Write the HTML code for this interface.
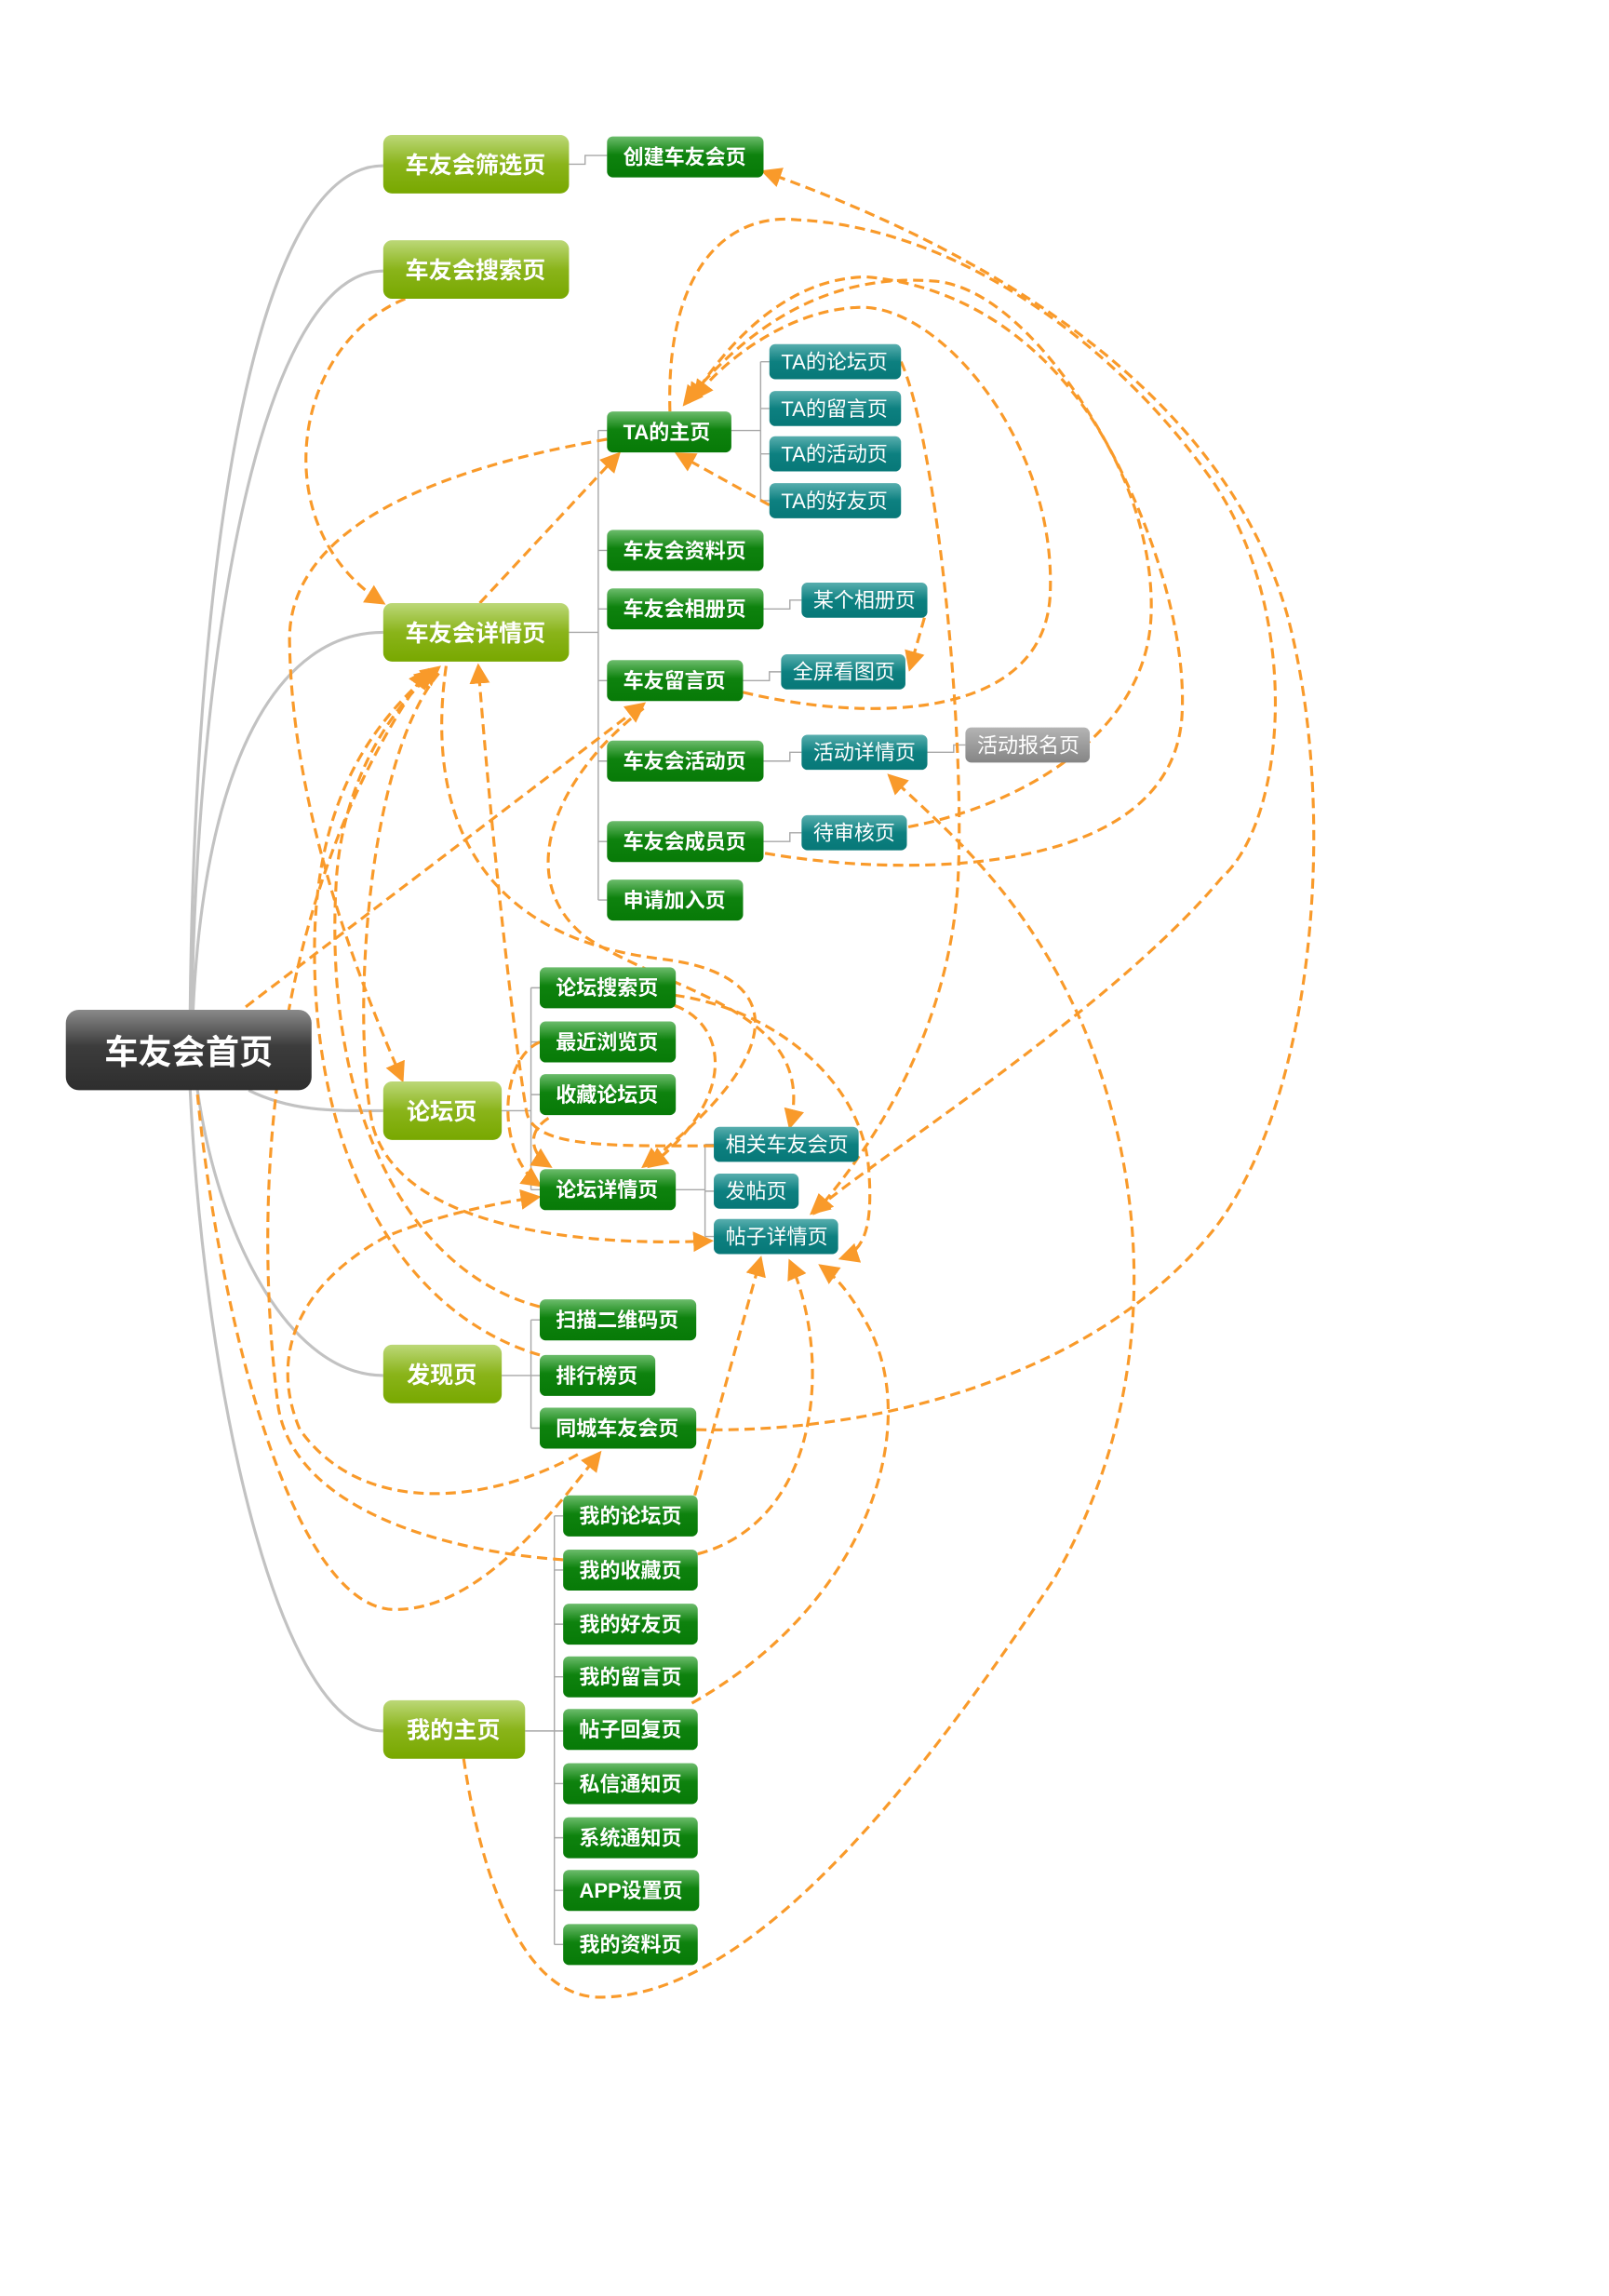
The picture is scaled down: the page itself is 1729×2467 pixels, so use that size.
<!DOCTYPE html>
<html><head><meta charset="utf-8"><style>
html,body{margin:0;padding:0;background:#fff}
svg{display:block}
text{font-family:"Liberation Sans","Noto Sans CJK SC",sans-serif;fill:#fff}
</style></head><body>
<svg width="1729" height="2467" viewBox="0 0 1100 1569" xmlns="http://www.w3.org/2000/svg">
<defs>
<linearGradient id="gr" x1="0" y1="0" x2="0" y2="1"><stop offset="0" stop-color="#8a8a8a"/><stop offset="0.45" stop-color="#3c3c3c"/><stop offset="1" stop-color="#2e2e2e"/></linearGradient>
<linearGradient id="gl" x1="0" y1="0" x2="0" y2="1"><stop offset="0" stop-color="#bcd878"/><stop offset="0.5" stop-color="#8ab41a"/><stop offset="1" stop-color="#78a800"/></linearGradient>
<linearGradient id="gg" x1="0" y1="0" x2="0" y2="1"><stop offset="0" stop-color="#6cbc6c"/><stop offset="0.45" stop-color="#0e820e"/><stop offset="1" stop-color="#077a07"/></linearGradient>
<linearGradient id="gt" x1="0" y1="0" x2="0" y2="1"><stop offset="0" stop-color="#58aeae"/><stop offset="0.5" stop-color="#0d8080"/><stop offset="1" stop-color="#077878"/></linearGradient>
<linearGradient id="gy" x1="0" y1="0" x2="0" y2="1"><stop offset="0" stop-color="#b4b4b4"/><stop offset="1" stop-color="#858585"/></linearGradient>
<marker id="a" markerUnits="userSpaceOnUse" markerWidth="16" markerHeight="16" refX="12" refY="7" orient="auto"><path d="M0,0 L14,7 L0,14 Z" fill="#f99a2a"/></marker>
</defs>

<g fill="none" stroke="#c2c2c2" stroke-width="2">
<path d="M130,690 C133,400 170,113 262,113"/>
<path d="M131,690 C136,430 180,185 262,185"/>
<path d="M132,690 C140,520 190,432 262,432"/>
<path d="M170,745 C200,760 230,759 262,759"/>
<path d="M135,745 C150,850 200,940 262,940"/>
<path d="M130,745 C140,950 190,1183 262,1183"/>
</g>
<g fill="none" stroke="#a8a8a8" stroke-width="0.9">
<path d="M389,112 H400 V106 H415"/>
<path d="M389,432 H409 M409,294 V615 M409,294 H415 M409,376 H415 M409,416 H415 M409,465 H415 M409,520 H415 M409,575 H415 M409,615 H415"/>
<path d="M500,294 H520 M520,247 V342 M520,247 H526 M520,279 H526 M520,310 H526 M520,342 H526"/>
<path d="M522,416 H540 V410 H548"/>
<path d="M508,465 H526 V459 H534"/>
<path d="M522,520 H540 V514 H548"/>
<path d="M634,514 H652 V509 H660"/>
<path d="M522,575 H540 V569 H548"/>
<path d="M343,759 H363 M363,675 V813 M363,675 H369 M363,712 H369 M363,748 H369 M363,813 H369"/>
<path d="M462,813 H482 M482,782 V845 M482,782 H488 M482,814 H488 M482,845 H488"/>
<path d="M343,940 H363 M363,902 V976 M363,902 H369 M363,940 H369 M363,976 H369"/>
<path d="M359,1183 H379 M379,1036 V1329 M379,1036 H385 M379,1073 H385 M379,1110 H385 M379,1146 H385 M379,1183 H385 M379,1219 H385 M379,1256 H385 M379,1292 H385 M379,1329 H385"/>
</g>

<g fill="none" stroke="#f99a2a" stroke-width="2" stroke-dasharray="7,4" marker-end="url(#a)">
<path d="M168,688 L440,481"/>
<path d="M328,412 L423,310"/>
<path d="M277,204 C200,235 180,360 262,412"/>
<path d="M415,300 C300,320 195,360 198,440 C200,560 250,680 275,738"/>
<path d="M526,345 L463,310"/>
<path d="M458,281 C455,180 500,145 545,150 C650,155 760,230 830,330 C890,420 880,560 835,600 C760,690 600,790 555,829"/>
<path d="M476,977 C600,980 750,940 830,840 C900,750 915,550 880,420 C840,280 700,180 522,117"/>
<path d="M621,565 C700,550 785,500 787,419 C790,330 720,200 592,189 C540,190 500,230 472,274"/>
<path d="M523,583 C620,600 800,600 808,490 C815,380 720,200 640,192 C560,185 505,230 468,276"/>
<path d="M508,473 C600,495 715,490 718,405 C722,300 640,205 585,210 C540,212 495,245 475,272"/>
<path d="M616,247 C640,300 660,500 655,600 C650,700 600,780 557,829"/>
<path d="M632,422 L622,457"/>
<path d="M317,1202 C330,1290 360,1365 410,1365 C520,1365 640,1200 720,1080 C790,960 790,820 740,700 C700,610 650,570 608,530"/>
<path d="M461,680 C531,690 590,740 594,800 C597,840 590,855 575,860"/>
<path d="M461,687 C497,700 505,750 444,797"/>
<path d="M305,455 C290,560 330,640 450,655 C540,665 540,720 440,797"/>
<path d="M440,484 C380,530 350,600 400,640 C460,680 560,690 540,770"/>
<path d="M369,712 C340,725 340,790 369,810"/>
<path d="M375,764 C358,775 365,790 376,797"/>
<path d="M488,783 C420,783 365,785 360,760 C350,700 335,560 327,455"/>
<path d="M300,460 C250,520 240,700 255,770 C275,840 400,852 486,848"/>
<path d="M369,893 C280,870 220,760 230,600 C235,530 270,480 300,456"/>
<path d="M369,926 C280,900 215,800 215,650 C215,540 260,490 296,458"/>
<path d="M385,1066 C300,1060 200,1030 190,960 C170,800 190,600 292,458"/>
<path d="M395,994 C340,1025 250,1040 205,977 C185,930 200,880 264,845 C300,830 340,822 368,818"/>
<path d="M135,748 C150,900 200,1100 270,1100 C330,1100 380,1030 410,993"/>
<path d="M475,1022 L520,860"/>
<path d="M477,1062 C560,1040 570,930 540,862"/>
<path d="M473,1164 C590,1098 630,980 595,909 C585,890 575,875 561,865"/>
</g>

<rect x="45" y="690" width="168" height="55" rx="9" fill="url(#gr)"/>
<text x="129" y="727" font-size="23" font-weight="bold" text-anchor="middle">车友会首页</text>

<g font-size="16" font-weight="bold" text-anchor="middle">
<rect x="262" y="92" width="127" height="40" rx="6" fill="url(#gl)"/><text x="325" y="118">车友会筛选页</text>
<rect x="262" y="164" width="127" height="40" rx="6" fill="url(#gl)"/><text x="325" y="190">车友会搜索页</text>
<rect x="262" y="412" width="127" height="40" rx="6" fill="url(#gl)"/><text x="325" y="438">车友会详情页</text>
<rect x="262" y="739" width="81" height="40" rx="6" fill="url(#gl)"/><text x="302" y="765">论坛页</text>
<rect x="262" y="919" width="81" height="40" rx="6" fill="url(#gl)"/><text x="302" y="945">发现页</text>
<rect x="262" y="1162" width="97" height="40" rx="6" fill="url(#gl)"/><text x="310" y="1188">我的主页</text>
</g>

<g font-size="14" font-weight="bold">
<rect x="415" y="93" width="107" height="28" rx="4" fill="url(#gg)"/><text x="426" y="112">创建车友会页</text>
<rect x="415" y="281" width="85" height="28" rx="4" fill="url(#gg)"/><text x="426" y="300">TA的主页</text>
<rect x="415" y="362" width="107" height="28" rx="4" fill="url(#gg)"/><text x="426" y="381">车友会资料页</text>
<rect x="415" y="402" width="107" height="28" rx="4" fill="url(#gg)"/><text x="426" y="421">车友会相册页</text>
<rect x="415" y="451" width="93" height="28" rx="4" fill="url(#gg)"/><text x="426" y="470">车友留言页</text>
<rect x="415" y="506" width="107" height="28" rx="4" fill="url(#gg)"/><text x="426" y="525">车友会活动页</text>
<rect x="415" y="561" width="107" height="28" rx="4" fill="url(#gg)"/><text x="426" y="580">车友会成员页</text>
<rect x="415" y="601" width="93" height="28" rx="4" fill="url(#gg)"/><text x="426" y="620">申请加入页</text>
<rect x="369" y="661" width="93" height="28" rx="4" fill="url(#gg)"/><text x="380" y="680">论坛搜索页</text>
<rect x="369" y="698" width="93" height="28" rx="4" fill="url(#gg)"/><text x="380" y="717">最近浏览页</text>
<rect x="369" y="734" width="93" height="28" rx="4" fill="url(#gg)"/><text x="380" y="753">收藏论坛页</text>
<rect x="369" y="799" width="93" height="28" rx="4" fill="url(#gg)"/><text x="380" y="818">论坛详情页</text>
<rect x="369" y="888" width="107" height="28" rx="4" fill="url(#gg)"/><text x="380" y="907">扫描二维码页</text>
<rect x="369" y="926" width="79" height="28" rx="4" fill="url(#gg)"/><text x="380" y="945">排行榜页</text>
<rect x="369" y="962" width="107" height="28" rx="4" fill="url(#gg)"/><text x="380" y="981">同城车友会页</text>
<rect x="385" y="1022" width="92" height="28" rx="4" fill="url(#gg)"/><text x="396" y="1041">我的论坛页</text>
<rect x="385" y="1059" width="92" height="28" rx="4" fill="url(#gg)"/><text x="396" y="1078">我的收藏页</text>
<rect x="385" y="1096" width="92" height="28" rx="4" fill="url(#gg)"/><text x="396" y="1115">我的好友页</text>
<rect x="385" y="1132" width="92" height="28" rx="4" fill="url(#gg)"/><text x="396" y="1151">我的留言页</text>
<rect x="385" y="1168" width="92" height="28" rx="4" fill="url(#gg)"/><text x="396" y="1187">帖子回复页</text>
<rect x="385" y="1205" width="92" height="28" rx="4" fill="url(#gg)"/><text x="396" y="1224">私信通知页</text>
<rect x="385" y="1242" width="92" height="28" rx="4" fill="url(#gg)"/><text x="396" y="1261">系统通知页</text>
<rect x="385" y="1278" width="93" height="28" rx="4" fill="url(#gg)"/><text x="396" y="1297">APP设置页</text>
<rect x="385" y="1315" width="92" height="28" rx="4" fill="url(#gg)"/><text x="396" y="1334">我的资料页</text>
</g>

<g font-size="14">
<rect x="526" y="235" width="90" height="24" rx="4" fill="url(#gt)"/><text x="534" y="252">TA的论坛页</text>
<rect x="526" y="267" width="90" height="24" rx="4" fill="url(#gt)"/><text x="534" y="284">TA的留言页</text>
<rect x="526" y="298" width="90" height="24" rx="4" fill="url(#gt)"/><text x="534" y="315">TA的活动页</text>
<rect x="526" y="330" width="90" height="24" rx="4" fill="url(#gt)"/><text x="534" y="347">TA的好友页</text>
<rect x="548" y="398" width="86" height="24" rx="4" fill="url(#gt)"/><text x="556" y="415">某个相册页</text>
<rect x="534" y="447" width="85" height="24" rx="4" fill="url(#gt)"/><text x="542" y="464">全屏看图页</text>
<rect x="548" y="502" width="86" height="24" rx="4" fill="url(#gt)"/><text x="556" y="519">活动详情页</text>
<rect x="548" y="557" width="72" height="24" rx="4" fill="url(#gt)"/><text x="556" y="574">待审核页</text>
<rect x="660" y="497" width="85" height="24" rx="4" fill="url(#gy)"/><text x="668" y="514">活动报名页</text>
<rect x="488" y="770" width="99" height="24" rx="4" fill="url(#gt)"/><text x="496" y="787">相关车友会页</text>
<rect x="488" y="802" width="58" height="24" rx="4" fill="url(#gt)"/><text x="496" y="819">发帖页</text>
<rect x="488" y="833" width="85" height="24" rx="4" fill="url(#gt)"/><text x="496" y="850">帖子详情页</text>
</g>
</svg>
</body></html>
